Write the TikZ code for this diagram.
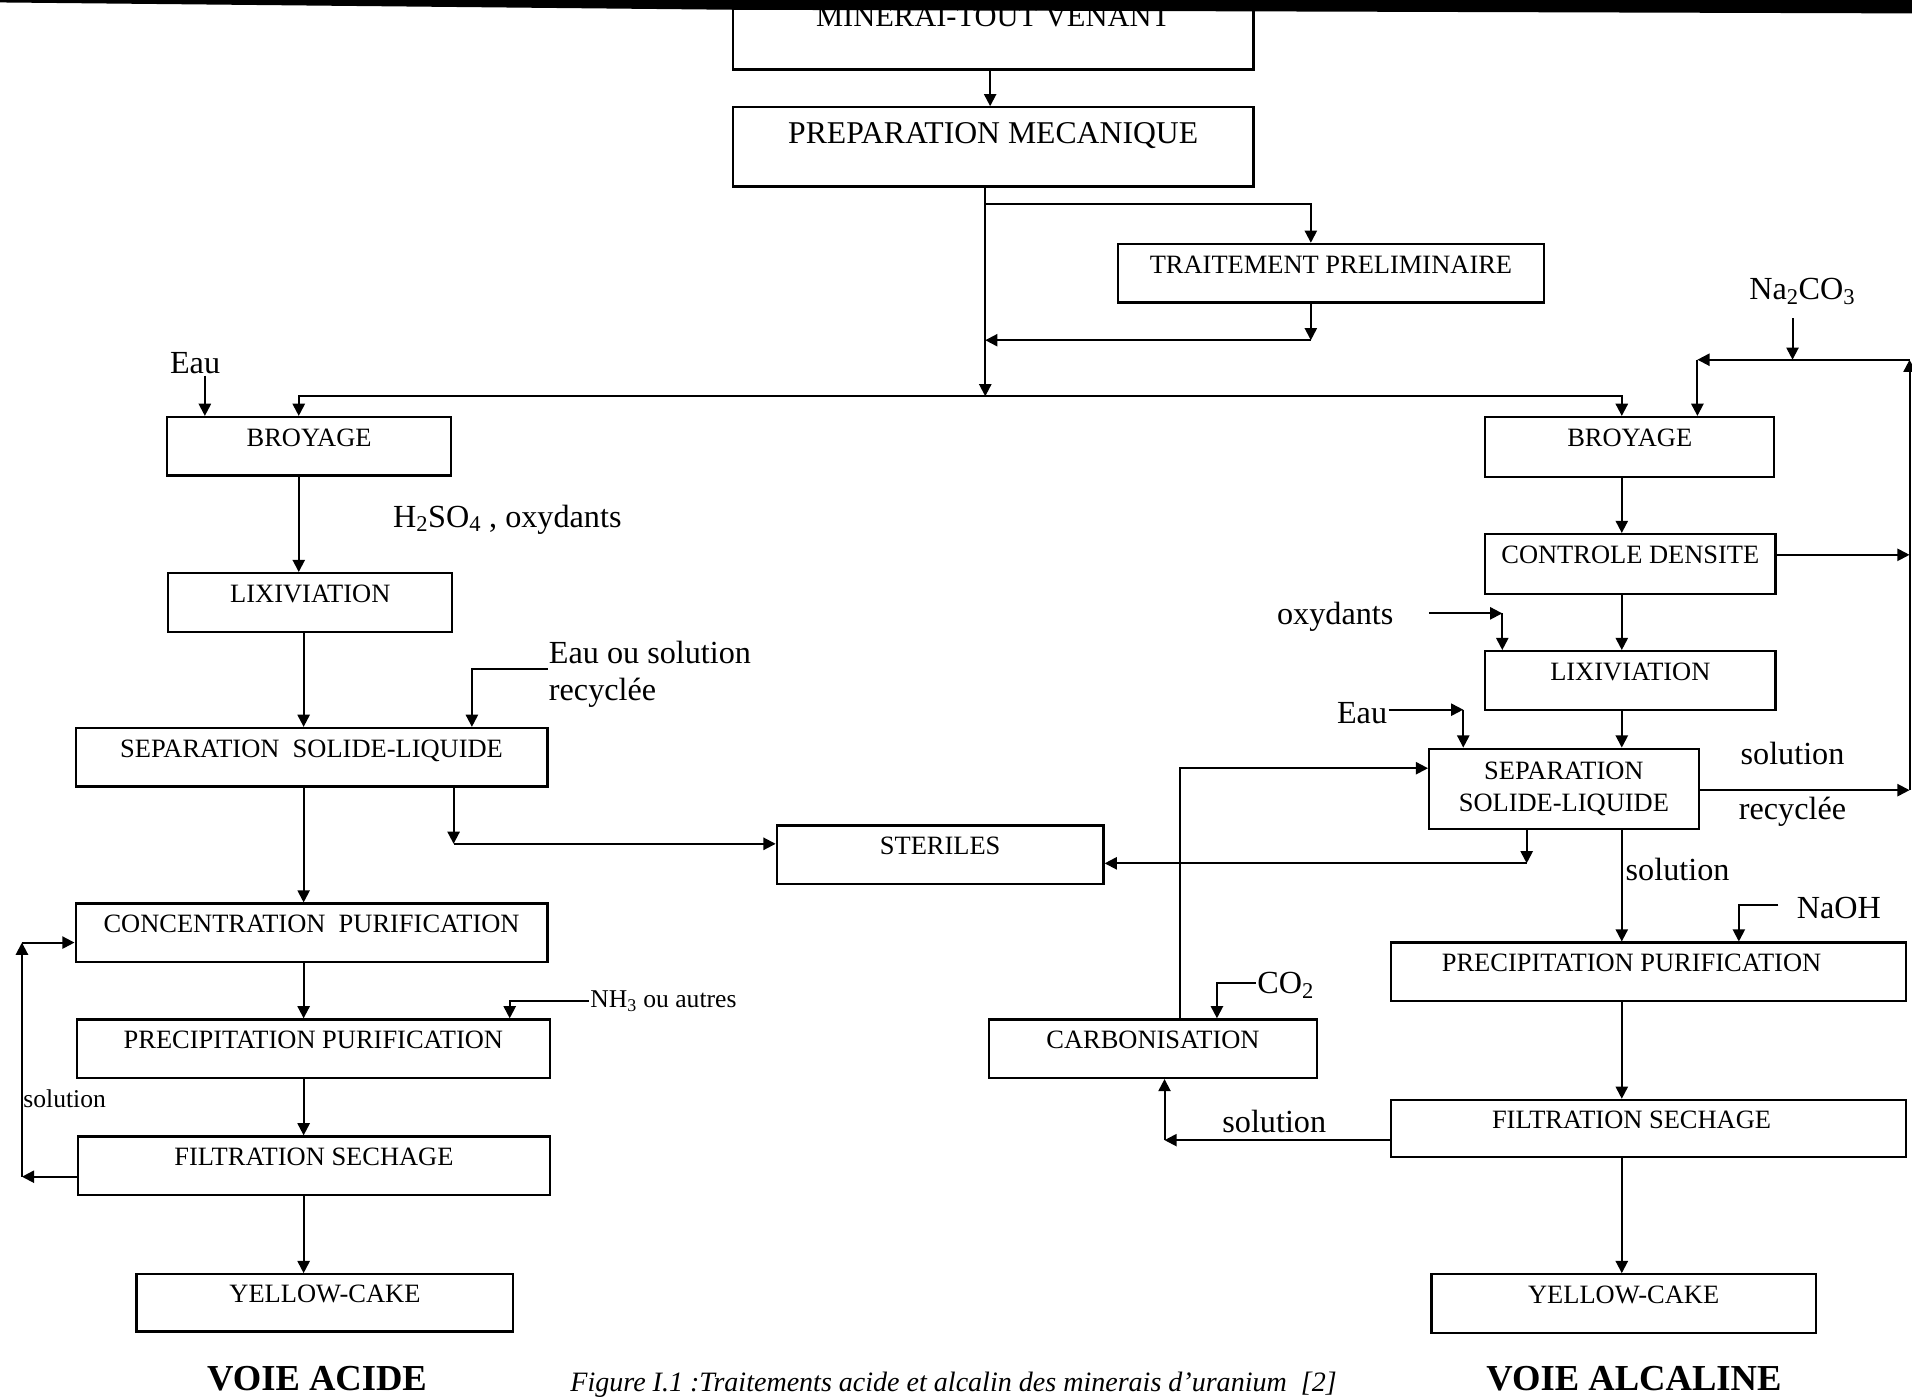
\documentclass[tikz,border=0pt]{standalone}
\usepackage{fontspec}
\setmainfont{Liberation Serif}
\usetikzlibrary{arrows.meta,calc}
\tikzset{
  box/.style={draw, line width=1.8pt, inner sep=0pt, font=\fontsize{21.7}{26}\selectfont},
  sbox/.style={box, text height=0pt, text depth=0pt},
  lab/.style={inner sep=1pt, font=\fontsize{26.4}{31}\selectfont},
  slab/.style={inner sep=1pt, font=\fontsize{21}{25}\selectfont},
  ttl/.style={inner sep=0pt, font=\fontsize{30}{34}\selectfont\bfseries},
  arr/.style={line width=1.6pt, -{Triangle[length=10pt,width=10pt]}}
}
\begin{document}
\begin{tikzpicture}[x=1pt,y=-1pt]
\useasboundingbox (0,0) rectangle (1568,1147);
% ---------- top ----------
\node[sbox, minimum width=427pt, minimum height=67pt, text depth=3pt, font=\fontsize{25}{30}\selectfont] (minerai) at (814.5,23.5) {MINERAI-TOUT VENANT};
\node[sbox, minimum width=427pt, minimum height=65pt, text depth=5pt, font=\fontsize{26}{30}\selectfont] (prep) at (814.5,120.5) {PREPARATION MECANIQUE};
\node[sbox, minimum width=349pt, minimum height=48pt] (trait) at (1091.5,224) {TRAITEMENT PRELIMINAIRE};
\fill[black] (0,0) -- (1568,0) -- (1568,11) -- (600,8) -- (0,2) -- cycle;
\coordinate (b1) at (808,167);
\coordinate (t1) at (1075,167);
\coordinate (t2) at (1075,279);
\coordinate (split) at (808,325);
\draw[arr] (minerai.south -| 812,0) -- (prep.north -| 812,0);
\draw[arr] (prep.south -| split) -- (split);
\draw[arr] (b1) -- (t1) -- (t1 |- trait.north);
\draw[arr] (trait.south -| t2) -- (t2);
\draw[arr] (t2) -- (t2 -| split);
% ---------- left column (voie acide) ----------
\node[sbox, minimum width=233pt, minimum height=48pt] (broyL) at (253.5,366) {BROYAGE};
\node[sbox, minimum width=233pt, minimum height=48pt] (lixL) at (254.5,494) {LIXIVIATION};
\node[sbox, minimum width=387pt, minimum height=48pt] (sepL) at (255.5,621) {SEPARATION\ \ SOLIDE-LIQUIDE};
\node[sbox, minimum width=268pt, minimum height=48pt] (ster) at (771,701) {STERILES};
\node[sbox, minimum width=387pt, minimum height=48pt] (concL) at (255.5,765) {CONCENTRATION\ \ PURIFICATION};
\node[sbox, minimum width=388pt, minimum height=48pt] (precL) at (257,860) {PRECIPITATION PURIFICATION};
\node[sbox, minimum width=387pt, minimum height=48pt] (filtL) at (257.5,956) {FILTRATION SECHAGE};
\node[sbox, minimum width=309pt, minimum height=47pt] (yelL) at (266.5,1068.5) {YELLOW-CAKE};
\node[lab] (eauL) at (160,298) {Eau};
\node[lab] (h2so4) at (416,426) {H\textsubscript{2}SO\textsubscript{4} , oxydants};
\node[lab, anchor=west, align=left] (eausol) at (449,553) {Eau ou solution\\recyclée};
\node[slab, anchor=west] (nh3) at (483,821) {NH\textsubscript{3} ou autres};
\node[slab, anchor=west] (solL) at (18,901) {solution};
\node[ttl] (voieA) at (260,1131) {VOIE ACIDE};
\node[inner sep=0pt, anchor=base, font=\fontsize{23}{27}\selectfont\itshape] (capt) at (782,1141) {Figure I.1 :Traitements acide et alcalin des minerais d'uranium\ \ [2]};
\coordinate (cl) at (249,0);
\coordinate (hl) at (245,325);
\coordinate (eL) at (168,0);
\coordinate (es1) at (387,549);
\coordinate (s1) at (372,692);
\coordinate (n1) at (418,821);
\coordinate (lp1) at (18,965);
\coordinate (lp2) at (18,773);
\draw[arr] (split) -- (hl) -- (hl |- broyL.north);
\draw[arr] (eauL.south -| eL) -- (eL |- broyL.north);
\draw[arr] (broyL.south -| hl) -- (lixL.north -| hl);
\draw[arr] (lixL.south -| cl) -- (sepL.north -| cl);
\draw[arr] (eausol.west |- es1) -- (es1) -- (es1 |- sepL.north);
\draw[arr] (sepL.south -| cl) -- (concL.north -| cl);
\draw[arr] (sepL.south -| s1) -- (s1);
\draw[arr] (s1) -- (s1 -| ster.west);
\draw[arr] (concL.south -| cl) -- (precL.north -| cl);
\draw[arr] (nh3.west) -- (n1) -- (n1 |- precL.north);
\draw[arr] (precL.south -| cl) -- (filtL.north -| cl);
\draw[arr] (filtL.west |- lp1) -- (lp1);
\draw[arr] (lp1) -- (lp2);
\draw[arr] (lp2) -- (lp2 -| concL.west);
\draw[arr] (filtL.south -| cl) -- (yelL.north -| cl);
% ---------- right column (voie alcaline) ----------
\node[sbox, minimum width=237pt, minimum height=49pt] (broyR) at (1336.5,366.5) {BROYAGE};
\node[sbox, minimum width=238pt, minimum height=49pt] (ctrl) at (1337,462.5) {CONTROLE DENSITE};
\node[sbox, minimum width=238pt, minimum height=48pt] (lixR) at (1337,558) {LIXIVIATION};
\node[box, minimum width=221pt, minimum height=66pt, align=center] (sepR) at (1282.5,647) {SEPARATION\\SOLIDE-LIQUIDE};
\node[sbox, minimum width=422pt, minimum height=48pt] (precR) at (1352,797) {PRECIPITATION PURIFICATION\hspace*{28pt}};
\node[sbox, minimum width=269pt, minimum height=48pt] (carb) at (945.5,860) {CARBONISATION};
\node[sbox, minimum width=422pt, minimum height=47pt] (filtR) at (1352,925.5) {FILTRATION SECHAGE\hspace*{28pt}};
\node[sbox, minimum width=315pt, minimum height=48pt] (yelR) at (1331.5,1069) {YELLOW-CAKE};
\node[lab] (na2co3) at (1478,239) {Na\textsubscript{2}CO\textsubscript{3}};
\node[lab] (oxy) at (1095,506) {oxydants};
\node[lab] (eauR) at (1117,585) {Eau};
\node[lab] (solR1) at (1470,618) {solution};
\node[lab] (solR2) at (1470,666) {recyclée};
\node[lab, anchor=west] (solR3) at (1332,713) {solution};
\node[lab] (naoh) at (1508,745) {NaOH};
\node[lab, anchor=west] (co2) at (1030,808) {CO\textsubscript{2}};
\node[lab] (solR4) at (1045,920) {solution};
\node[ttl] (voieB) at (1340,1131) {VOIE ALCALINE};
\coordinate (cr) at (1330,0);
\coordinate (hr) at (1330,325);
\coordinate (na) at (1470,295);
\coordinate (r1) at (1392,295);
\coordinate (rr) at (1566,295);
\coordinate (rr2) at (1566,648);
\coordinate (c1) at (1566,455);
\coordinate (o1) at (1232,503);
\coordinate (e1) at (1200,582);
\coordinate (s2) at (1252,708);
\coordinate (k1) at (968,630);
\coordinate (na1) at (1426,742);
\coordinate (co1) at (998,806);
\coordinate (f1) at (955,935);
\draw[arr] (split) -- (hr) -- (hr |- broyR.north);
\draw[arr, shorten <=10pt] (na2co3.south -| na) -- (na);
\draw[arr] (rr) -- (r1);
\draw[arr] (r1) -- (r1 |- broyR.north);
\draw[arr] (rr2) -- (rr);
\draw[arr] (broyR.south -| cr) -- (ctrl.north -| cr);
\draw[arr] (ctrl.east |- c1) -- (c1);
\draw[arr] (ctrl.south -| cr) -- (lixR.north -| cr);
\draw[arr, shorten <=28pt] (oxy.east |- o1) -- (o1);
\draw[arr] (o1) -- (o1 |- lixR.north);
\draw[arr] (lixR.south -| cr) -- (sepR.north -| cr);
\draw[arr] (eauR.east |- e1) -- (e1);
\draw[arr] (e1) -- (e1 |- sepR.north);
\draw[arr] (sepR.east |- rr2) -- (rr2);
\draw[arr] (sepR.south -| s2) -- (s2);
\draw[arr] (s2) -- (s2 -| ster.east);
\draw[arr] (carb.north -| k1) -- (k1) -- (k1 -| sepR.west);
\draw[arr] (sepR.south -| cr) -- (precR.north -| cr);
\draw[arr, shorten <=14pt] (naoh.west |- na1) -- (na1) -- (na1 |- precR.north);
\draw[arr] (co2.west |- co1) -- (co1) -- (co1 |- carb.north);
\draw[arr] (precR.south -| cr) -- (filtR.north -| cr);
\draw[arr] (filtR.west |- f1) -- (f1);
\draw[arr] (f1) -- (f1 |- carb.south);
\draw[arr] (filtR.south -| cr) -- (yelR.north -| cr);
\end{tikzpicture}
\end{document}
